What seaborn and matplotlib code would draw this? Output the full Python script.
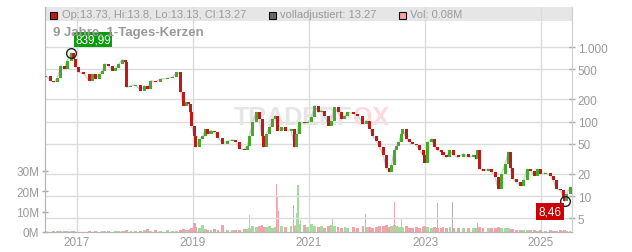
import numpy as np
import pandas as pd
import matplotlib
matplotlib.use("Agg")
import matplotlib.pyplot as plt
import seaborn as sns
from matplotlib.patches import Rectangle

# ---------------- data ----------------
years = [
    2016.46, 2016.55, 2016.60, 2016.66, 2016.72, 2016.78, 2016.83, 2016.90, 2016.94, 2016.98,
    2017.03, 2017.12, 2017.21, 2017.26, 2017.32, 2017.38, 2017.44, 2017.48, 2017.55, 2017.61,
    2017.67, 2017.72, 2017.78, 2017.83,
    2017.85, 2017.93, 2018.01, 2018.10, 2018.16, 2018.21, 2018.27, 2018.36, 2018.44, 2018.56,
    2018.64, 2018.72, 2018.78,
    2018.79, 2018.83, 2018.88, 2018.93, 2018.95, 2018.98, 2019.02, 2019.05, 2019.11, 2019.17,
    2019.21, 2019.25, 2019.31, 2019.37, 2019.43, 2019.51, 2019.60, 2019.68, 2019.74, 2019.80,
    2019.88, 2019.94, 2019.97,
    2020.03, 2020.09, 2020.14, 2020.19, 2020.21, 2020.26, 2020.32, 2020.37, 2020.42, 2020.46,
    2020.52, 2020.60, 2020.69, 2020.75, 2020.79, 2020.83, 2020.92, 2020.98,
    2021.04, 2021.10, 2021.16, 2021.21, 2021.27, 2021.33, 2021.38, 2021.44, 2021.50, 2021.56,
    2021.62, 2021.67, 2021.76, 2021.84, 2021.93, 2021.99, 2022.05, 2022.10, 2022.16, 2022.22,
    2022.28, 2022.33, 2022.38, 2022.42, 2022.47, 2022.51, 2022.55, 2022.59, 2022.62, 2022.68,
    2022.73, 2022.79, 2022.85, 2022.91, 2022.97, 2022.99,
    2023.05, 2023.11, 2023.17, 2023.22, 2023.28, 2023.31, 2023.37, 2023.43, 2023.49, 2023.57,
    2023.66, 2023.75, 2023.83, 2023.88, 2023.91, 2023.94, 2024.00, 2024.09, 2024.15, 2024.21,
    2024.26, 2024.32, 2024.38, 2024.44, 2024.47, 2024.51, 2024.58, 2024.64, 2024.70, 2024.76,
    2024.82, 2024.88, 2024.94, 2024.99, 2025.07, 2025.16, 2025.21, 2025.27, 2025.33, 2025.39,
    2025.41, 2025.44, 2025.50,
]
closes = [
    412, 353, 336, 380, 561, 507, 655, 839.99, 690, 534,
    457, 434, 353, 434, 372, 434, 481, 591, 561, 481,
    518, 591, 675, 624,
    288, 303, 310, 259, 303, 273, 353, 340, 372, 380,
    392, 457, 434,
    246, 163, 181, 172, 133, 88, 64, 45, 58, 64,
    79, 68, 75, 72, 61, 50, 55, 57, 53, 43,
    42, 47, 64,
    98, 133, 108, 64, 45, 68, 84, 108, 120, 75,
    84, 75, 79, 45, 68, 98, 95, 98,
    114, 163, 133, 140, 120, 88, 103, 155, 133, 108,
    120, 133, 128, 120, 93, 103, 79, 64, 55, 45,
    35, 24, 21, 26, 41, 47, 53, 68, 79, 58,
    53, 50, 48, 41, 35, 28,
    53, 58, 45, 41, 39, 35, 33, 41, 35, 33,
    37, 33, 35, 31, 41, 23, 22, 23, 21, 18,
    12.4, 19.8, 27, 39, 24, 17, 15.3, 13.8, 16.2, 23,
    22, 18.7, 23, 19.8, 20.5, 18.7, 16.2, 12.4, 11.9, 9.6,
    8.46, 10.6, 13.27,
]
first_open = 400

volume_m = [
    0.3, 0.2, 0.4, 0.3, 0.6, 0.3, 0.4, 0.5, 0.3, 0.2,
    0.2, 0.2, 0.3, 0.2, 0.3, 0.2, 0.4, 0.6, 0.3, 0.2,
    0.5, 0.3, 0.6, 0.4,
    0.8, 0.5, 0.6, 0.7, 0.9, 1.3, 0.7, 0.8, 0.6, 0.9,
    0.7, 0.6, 0.8,
    1.2, 1.5, 0.9, 1.0, 1.3, 2.0, 4.3, 2.5, 1.8, 3.3,
    1.6, 1.2, 1.0, 1.4, 1.1, 3.3, 1.0, 0.9, 1.2, 1.0,
    1.3, 1.5, 2.0,
    3.0, 2.5, 2.8, 3.5, 2.6, 2.4, 3.0, 2.2, 2.5, 4.0,
    3.0, 2.5, 2.8, 3.0, 3.5, 4.0, 3.2, 2.6,
    4.0, 3.0, 2.5, 2.8, 2.2, 3.0, 3.4, 3.0, 2.5, 2.2,
    2.6, 2.0, 2.4, 2.2, 2.8, 2.5, 2.6, 2.2, 2.4, 2.8,
    3.0, 3.2, 2.6, 3.0, 3.5, 3.0, 2.6, 2.4, 2.2, 2.8,
    2.2, 2.0, 2.4, 2.0, 2.6, 3.0,
    2.6, 2.2, 2.4, 2.0, 2.2, 2.6, 2.0, 2.4, 1.8, 2.0,
    1.8, 2.2, 2.0, 1.8, 2.0, 2.6, 2.2, 2.0, 1.8, 2.2,
    2.6, 2.0, 1.8, 2.0, 1.6, 1.4, 1.2, 1.0, 1.0, 0.8,
    1.0, 0.8, 0.6, 0.8, 0.6, 0.8, 0.6, 0.5, 0.8, 0.6,
    1.0, 0.6, 0.4,
]

spike_years = [2019.97, 2020.44, 2020.46, 2020.48, 2020.74, 2020.79, 2020.81, 2020.85,
               2021.40, 2021.97, 2022.48, 2022.59, 2023.21, 2023.47, 2023.91]
spike_vol_m = [8.3, 23.4, 17.6, 10.3, 13.0, 9.5, 23.0, 6.0,
               6.2, 8.8, 14.7, 6.2, 14.4, 14.9, 4.3]
spike_kind = ['u', 'd', 'u', 'd', 'd', 'u', 'u', 'u',
              'u', 'd', 'd', 'u', 'd', 'n', 'd']

year_ticks = [2017, 2019, 2021, 2023, 2025]
year_labels = ['2017', '2019', '2021', '2023', '2025']
price_ticks = [5, 10, 20, 50, 100, 200, 500, 1000]
price_labels = ['5', '10', '20', '50', '100', '200', '500', '1.000']
vol_ticks = [0, 10, 20, 30]
vol_labels = ['0M', '10M', '20M', '30M']

header_items = ['Op:13.73, Hi:13.8, Lo:13.13, Cl:13.27', 'volladjustiert: 13.27', 'Vol: 0.08M']
title_text = '9 Jahre, 1-Tages-Kerzen'
max_label = '839,99'
min_label = '8,46'

# ---------------- styling ----------------
sns.set_style('white')
plt.rcParams['font.family'] = ['Liberation Sans', 'DejaVu Sans']

RED = '#bd1a1a'
GREEN = '#48a82a'
VPINK = '#f2a3ab'
VGREEN = '#a6da9e'
GRID = '#dcdcdc'
TXT = '#9a9a9a'

W, H = 632, 253
fig = plt.figure(figsize=(W / 100, H / 100), dpi=100)
L, R, T, B = 45, 572, 8, 233
ax = fig.add_axes([L / W, 1 - B / H, (R - L) / W, (B - T) / H])
ax2 = ax.twinx()

df = pd.DataFrame({'year': years, 'close': closes, 'vol': volume_m})
df['open'] = [first_open] + closes[:-1]
df['up'] = df['close'] >= df['open']

# ---- volume (left axis) ----
ax.set_axisbelow(True)
vcol = [VGREEN if u else VPINK for u in df['up']]
ax.bar(df['year'], df['vol'], width=0.05, color=vcol, linewidth=0, zorder=2)
scol = {'u': VGREEN, 'd': VPINK, 'n': '#b0b0b0'}
ax.bar(spike_years, spike_vol_m, width=0.018, color=[scol[k] for k in spike_kind],
       linewidth=0, zorder=2)
ax.set_ylim(0, 110)
ax.set_xlim(2016.448, 2025.534)
ax.set_yticks(vol_ticks)
ax.set_yticklabels(vol_labels)
ax.set_xticks(year_ticks)
ax.set_xticklabels(year_labels)
ax.grid(axis='x', color=GRID, linewidth=1)
ax.grid(axis='y', visible=False)
ax.tick_params(axis='y', colors='#aaaaaa', labelcolor=TXT, labelsize=8.5, length=4,
               width=1, direction='inout', pad=2)
ax.tick_params(axis='x', colors=TXT, labelsize=8.5, length=0, pad=3)

# header band
band_h = 14 / (B - T)
ax.add_patch(Rectangle((0, 1 - band_h), 1, band_h, transform=ax.transAxes,
                       facecolor='#e6e6e6', edgecolor='none', zorder=0.2))

# ---- price (right axis, log) ----
ax2.set_yscale('log')
ax2.set_ylim(3.29, 3443)
sns.lineplot(data=df, x='year', y='close', ax=ax2, color='#cfcfcf', linewidth=1, zorder=2)
bottoms = np.minimum(df['open'], df['close'])
heights = np.abs(df['close'] - df['open'])
ccol = [GREEN if u else RED for u in df['up']]
ax2.bar(df['year'], heights, bottom=bottoms, width=0.052, color=ccol, linewidth=0, zorder=3)
ax2.set_yticks(price_ticks)
ax2.set_yticklabels(price_labels)
ax2.yaxis.set_minor_locator(matplotlib.ticker.NullLocator())
ax2.grid(axis='y', color=GRID, linewidth=1)
ax2.set_axisbelow(True)
ax2.tick_params(axis='y', colors='#aaaaaa', labelcolor=TXT, labelsize=8.5, length=4,
                width=1, direction='inout', pad=2)
ax2.set_xlabel('')
ax2.set_ylabel('')
ax.set_xlabel('')
ax.set_ylabel('')

for a in (ax, ax2):
    a.spines['top'].set_visible(False)
    a.spines['left'].set_color('#b5b5b5')
    a.spines['bottom'].set_color('#b5b5b5')
    a.spines['right'].set_color('#d0d0d0')

# watermark
ax2.text(0.584, 0.511, 'TRADERF', transform=ax.transAxes, ha='right', va='center',
         fontsize=18, fontweight='bold', color='#e6e6e6', zorder=1)
ax2.text(0.584, 0.511, 'OX', transform=ax.transAxes, ha='left', va='center',
         fontsize=18, fontweight='bold', color='#fadadd', zorder=1)

# max / min markers
imax = int(np.argmax(closes))
imin = int(np.argmin(closes))
ax2.plot([years[imax]], [closes[imax]], marker='o', ms=7, mfc='none', mec='#222222',
         mew=1, zorder=5)
ax2.plot([years[imin]], [closes[imin]], marker='o', ms=7, mfc='none', mec='#222222',
         mew=1, zorder=5)
ax2.annotate(max_label, (years[imax], closes[imax]), xytext=(4, 13), textcoords='offset pixels',
             ha='left', va='center', color='white', fontsize=8.5, zorder=6,
             bbox=dict(boxstyle='square,pad=0.12', fc='#0b9b0b', ec='none'))
ax2.annotate(min_label, (years[imin], closes[imin]), xytext=(-3, -10), textcoords='offset pixels',
             ha='right', va='center', color='white', fontsize=8.5, zorder=6,
             bbox=dict(boxstyle='square,pad=0.2', fc='#cc0000', ec='none'))

# header texts
def fx(px):
    return px / W

def fy(py):
    return 1 - py / H

sq = [(50, RED), (269, '#666666'), (399, VPINK)]
tx = [62, 280, 410]
for (sx, c), t, label in zip(sq, tx, header_items):
    fig.patches.append(Rectangle((fx(sx), fy(19.5)), 7 / W, 7 / H, transform=fig.transFigure,
                                 facecolor=c, edgecolor='#111111', linewidth=0.8, zorder=10))
    fig.text(fx(t), fy(15.5), label, ha='left', va='center', fontsize=8, color=TXT)

fig.text(fx(53), fy(33), title_text, ha='left', va='center', fontsize=9.5,
         fontweight='bold', color='#999999')

fig.savefig('out.png', dpi=100)
